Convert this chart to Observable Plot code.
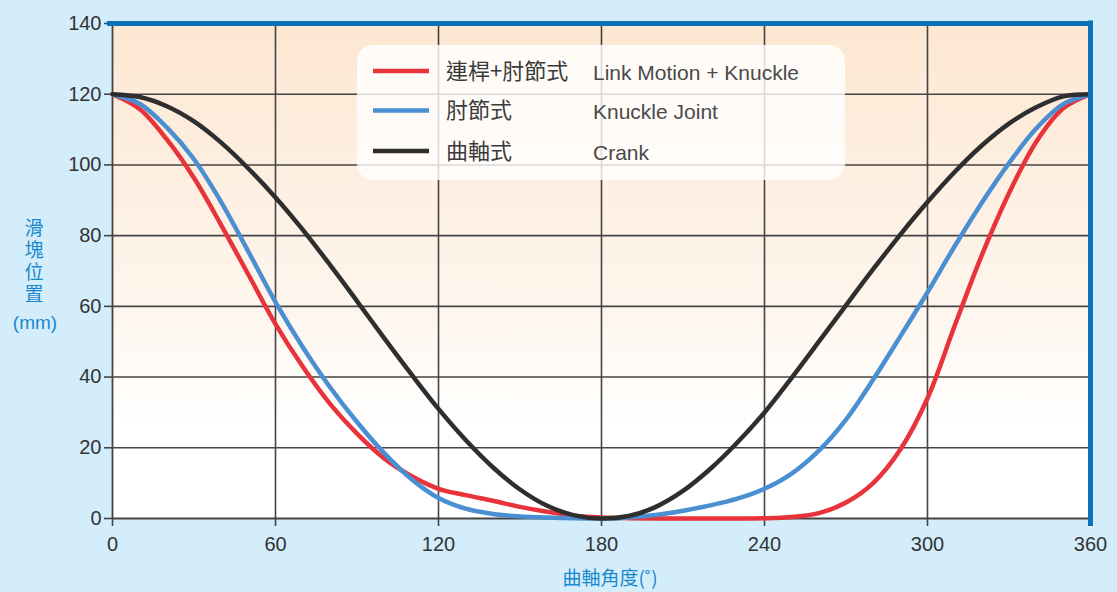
<!DOCTYPE html>
<html>
<head>
<meta charset="utf-8">
<script src="https://cdn.jsdelivr.net/npm/d3@7"></script>
<script src="https://cdn.jsdelivr.net/npm/@observablehq/plot@0.6"></script>
<style>
  html, body { margin: 0; padding: 0; background: #d3edfb; }
  #chart { width: 1117px; height: 592px; }
</style>
</head>
<body>
<div id="chart"></div>
<script>
// ---- data ----
const angles = [0,10,20,30,40,50,60,70,80,90,100,110,120,130,140,150,160,170,180,
                190,200,210,220,230,240,250,260,270,280,290,300,310,320,330,340,350,360];
const linkKnuckle = [120,115.8,107.2,96.3,83,69,55,43,32.5,24,17,12,8.4,6.6,5,3.3,1.9,0.8,0.3,
                     0.1,0,0,0,0,0.05,0.4,1.5,4.5,10,19.5,34,54.5,74.5,92,106.5,116,120];
const knuckle = [120,117.3,110.6,101.6,89.5,75.5,61.2,48.5,37.2,27.3,18.5,11.2,5.8,2.8,1.3,0.6,0.25,0.05,0,
                 0.3,1,2.2,3.7,5.6,8.4,12.7,19.2,28,39.3,51.5,64,77,89.3,100.5,110.3,117.2,120];
const crank = [120,119.2,116.6,112.3,106.3,99,90.8,81.7,71.8,61.5,51,40.8,31,22.2,14.5,8.2,3.6,0.9,0,
               0.7,3.3,7.8,14,21.5,30,39.8,50,60.3,70.5,80.3,89.5,98,105.5,111.7,116.3,119.4,120];
const seriesZh = ["連桿+肘節式", "肘節式", "曲軸式"];
const seriesEn = ["Link Motion + Knuckle", "Knuckle Joint", "Crank"];
const seriesColors = ["#e8333b", "#4a8fd1", "#2e2e2e"];
const seriesValues = [linkKnuckle, knuckle, crank];
const xTicks = [0, 60, 120, 180, 240, 300, 360];
const yTicks = [0, 20, 40, 60, 80, 100, 120, 140];
const xGrid = [60, 120, 180, 240, 300];
const yGrid = [20, 40, 60, 80, 100, 120];
const yLabelText = "滑塊位置";
const yLabelUnit = "(mm)";
const xLabel = "曲軸角度(˚)";

const rows = [];
seriesValues.forEach((vals, s) => {
  vals.forEach((v, i) => rows.push({angle: angles[i], pos: v, series: seriesZh[s]}));
});

const gridColor = "#444";
const blue = "#0b72ba";
const sansFont = "'Liberation Sans', Arial, sans-serif";
const cjkFont = "'Noto Sans CJK TC', 'Noto Sans CJK SC', sans-serif";

const svg = Plot.plot({
  width: 1117,
  height: 592,
  marginLeft: 112,
  marginRight: 27,
  marginTop: 23,
  marginBottom: 74,
  style: {background: "transparent", fontFamily: sansFont, fontSize: "20px", color: "#333"},
  x: {domain: [0, 360]},
  y: {domain: [0, 140]},
  color: {domain: seriesZh, range: seriesColors},
  marks: [
    Plot.frame({fill: "url(#bgGrad)", stroke: "none"}),
    Plot.ruleX(xGrid, {stroke: gridColor, strokeWidth: 1.6}),
    Plot.ruleY(yGrid, {stroke: gridColor, strokeWidth: 1.6}),
    Plot.ruleX([0], {stroke: gridColor, strokeWidth: 1.8}),
    Plot.ruleY([0], {stroke: gridColor, strokeWidth: 1.8}),
    Plot.axisX({ticks: xTicks, tickSize: 8, tickPadding: 10, tickFormat: d => String(d), stroke: gridColor, strokeWidth: 1.6, label: null, fill: "#333", fontSize: 20}),
    Plot.axisY({ticks: yTicks, tickSize: 8, tickPadding: 3, tickFormat: d => String(d), stroke: gridColor, strokeWidth: 1.6, label: null, fill: "#333", fontSize: 20}),
    Plot.line(rows, {x: "angle", y: "pos", z: "series", stroke: "series", strokeWidth: 4.5, curve: "catmull-rom", strokeLinecap: "round"}),
    Plot.ruleY([140], {stroke: blue, strokeWidth: 5, insetLeft: -5, insetRight: -3}),
    Plot.ruleX([360], {stroke: blue, strokeWidth: 5, insetBottom: -8, insetTop: -2.5})
  ]
});

document.getElementById("chart").appendChild(svg);

const sel = d3.select(svg);
// gradient for plot background
const defs = sel.insert("defs", ":first-child");
const grad = defs.append("linearGradient").attr("id", "bgGrad").attr("x1", 0).attr("y1", 0).attr("x2", 0).attr("y2", 1);
grad.append("stop").attr("offset", "0%").attr("stop-color", "#fde7d2");
grad.append("stop").attr("offset", "55%").attr("stop-color", "#fef5ec");
grad.append("stop").attr("offset", "82%").attr("stop-color", "#ffffff");
grad.append("stop").attr("offset", "100%").attr("stop-color", "#ffffff");

// legend
const lg = sel.append("g").attr("text-anchor", "start");
lg.append("rect").attr("x", 357).attr("y", 45).attr("width", 488).attr("height", 135)
  .attr("rx", 16).attr("fill", "#ffffff").attr("fill-opacity", 0.8);
const rowY = [71, 110.5, 151];
seriesZh.forEach((name, i) => {
  lg.append("line").attr("x1", 373).attr("x2", 429).attr("y1", rowY[i]).attr("y2", rowY[i])
    .attr("stroke", seriesColors[i]).attr("stroke-width", 4.5);
  lg.append("text").attr("x", 446).attr("y", rowY[i]).attr("dy", "0.36em").attr("text-anchor", "start")
    .attr("font-family", cjkFont).attr("font-size", 22).attr("fill", "#3a3a3a").text(name);
  lg.append("text").attr("x", 593).attr("y", rowY[i] + 1).attr("dy", "0.36em").attr("text-anchor", "start")
    .attr("font-family", sansFont).attr("font-size", 21).attr("fill", "#4a4a4a").text(seriesEn[i]);
});

// y label (vertical, one text)
sel.append("text").attr("x", 34).attr("y", 218).attr("text-anchor", "start")
  .style("writing-mode", "vertical-rl").style("letter-spacing", "3px")
  .attr("fill", "#1a88cf").attr("font-family", cjkFont).attr("font-size", 19).text(yLabelText);
sel.append("text").attr("x", 35).attr("y", 322).attr("dy", "0.36em").attr("text-anchor", "middle")
  .attr("fill", "#1a88cf").attr("font-family", sansFont).attr("font-size", 19).text(yLabelUnit);

// x label
sel.append("text").attr("x", 610).attr("y", 578).attr("dy", "0.36em").attr("text-anchor", "middle")
  .attr("fill", "#1a88cf").attr("font-family", cjkFont).attr("font-size", 19).text(xLabel);
</script>
</body>
</html>
